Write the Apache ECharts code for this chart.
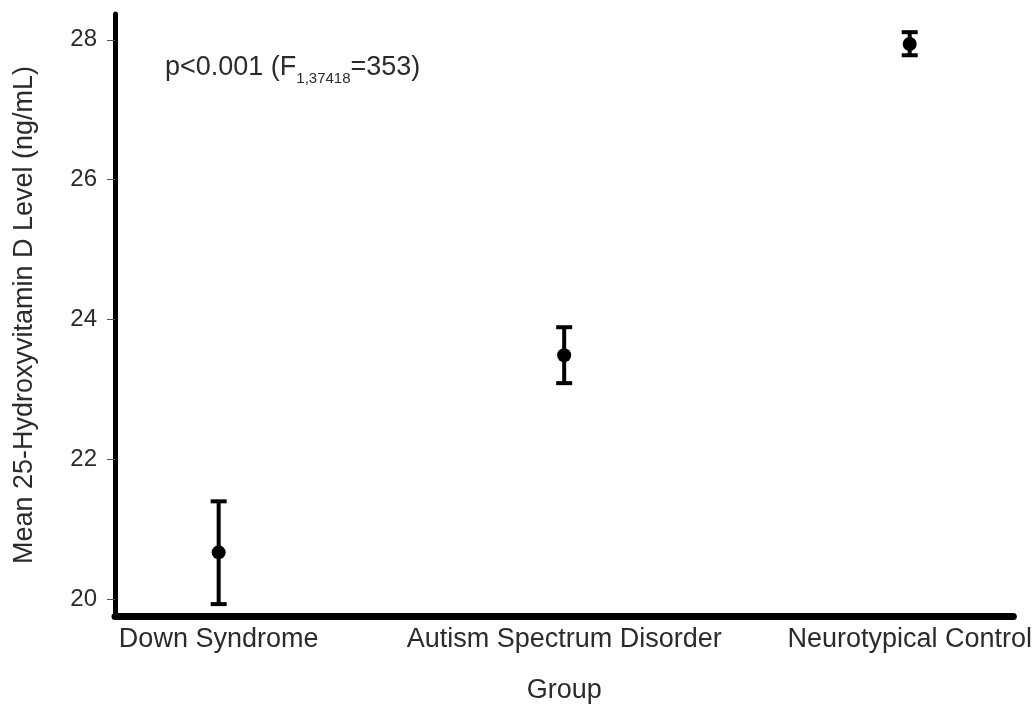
<!DOCTYPE html>
<html><head><meta charset="utf-8">
<script src="https://cdn.jsdelivr.net/npm/echarts@6/dist/echarts.min.js"></script>
<style>html,body{margin:0;padding:0;background:#fff}#c{width:1035px;height:709px}</style>
</head><body><div id="c"></div>
<script>
const groups = ['Down Syndrome', 'Autism Spectrum Disorder', 'Neurotypical Control'];
const means = [20.67, 23.49, 27.94];
const lower = [19.93, 23.09, 27.78];
const upper = [21.40, 23.89, 28.11];
const yTicks = [20, 22, 24, 26, 28];

const FONT = 'Liberation Sans, Arial, Helvetica, sans-serif';
const TXT = '#2b2b2b';
const chart = echarts.init(document.getElementById('c'), null, {renderer: 'canvas'});
const positions = groups.map((g, i) => i + 1);

chart.setOption({
  animation: false,
  backgroundColor: '#fff',
  grid: {left: 115, top: 14, right: 17, bottom: 92, containLabel: false},
  xAxis: {
    type: 'value', min: 0.7, max: 3.3,
    name: 'Group', nameLocation: 'middle', nameGap: 61,
    nameTextStyle: {fontFamily: FONT, fontSize: 27, color: TXT},
    axisLine: {show: true, lineStyle: {color: '#000', width: 7}},
    axisTick: {show: false},
    splitLine: {show: false},
    axisLabel: {
      customValues: positions, margin: 10,
      fontFamily: FONT, fontSize: 27, color: TXT,
      formatter: v => groups[Math.round(v) - 1] || ''
    }
  },
  yAxis: {
    type: 'value', min: 19.76, max: 28.37,
    name: 'Mean 25-Hydroxyvitamin D Level (ng/mL)', nameLocation: 'middle', nameGap: 77,
    nameTextStyle: {fontFamily: FONT, fontSize: 27, color: TXT},
    axisLine: {show: true, lineStyle: {color: '#000', width: 5}},
    axisTick: {show: true, customValues: yTicks, length: 8, lineStyle: {color: '#555', width: 1}},
    splitLine: {show: false},
    axisLabel: {customValues: yTicks, margin: 18, fontFamily: FONT, fontSize: 24, color: TXT}
  },
  series: [{
    type: 'custom',
    data: groups.map((g, i) => [positions[i], lower[i], upper[i]]),
    renderItem: (params, api) => {
      const x = api.value(0);
      const lo = api.coord([x, api.value(1)]);
      const hi = api.coord([x, api.value(2)]);
      const cap = 8;
      const st = {stroke: '#000', lineWidth: 4, lineCap: 'butt'};
      return {type: 'group', children: [
        {type: 'line', shape: {x1: lo[0], y1: lo[1], x2: hi[0], y2: hi[1]}, style: st},
        {type: 'line', shape: {x1: lo[0] - cap, y1: lo[1], x2: lo[0] + cap, y2: lo[1]}, style: st},
        {type: 'line', shape: {x1: hi[0] - cap, y1: hi[1], x2: hi[0] + cap, y2: hi[1]}, style: st}
      ]};
    },
    z: 2
  }, {
    type: 'scatter',
    data: groups.map((g, i) => [positions[i], means[i]]),
    symbol: 'circle', symbolSize: 14,
    itemStyle: {color: '#000', opacity: 1},
    z: 3
  }],
  graphic: [{
    type: 'text', left: 165, top: 54,
    style: {
      text: '{a|p<0.001 (F}{s|1,37418}{a|=353)}',
      rich: {
        a: {fontFamily: FONT, fontSize: 27, fill: TXT, verticalAlign: 'bottom'},
        s: {fontFamily: FONT, fontSize: 15, fill: TXT, verticalAlign: 'bottom', padding: [0, 0, -5, 0]}
      }
    }
  }]
});
</script></body></html>
